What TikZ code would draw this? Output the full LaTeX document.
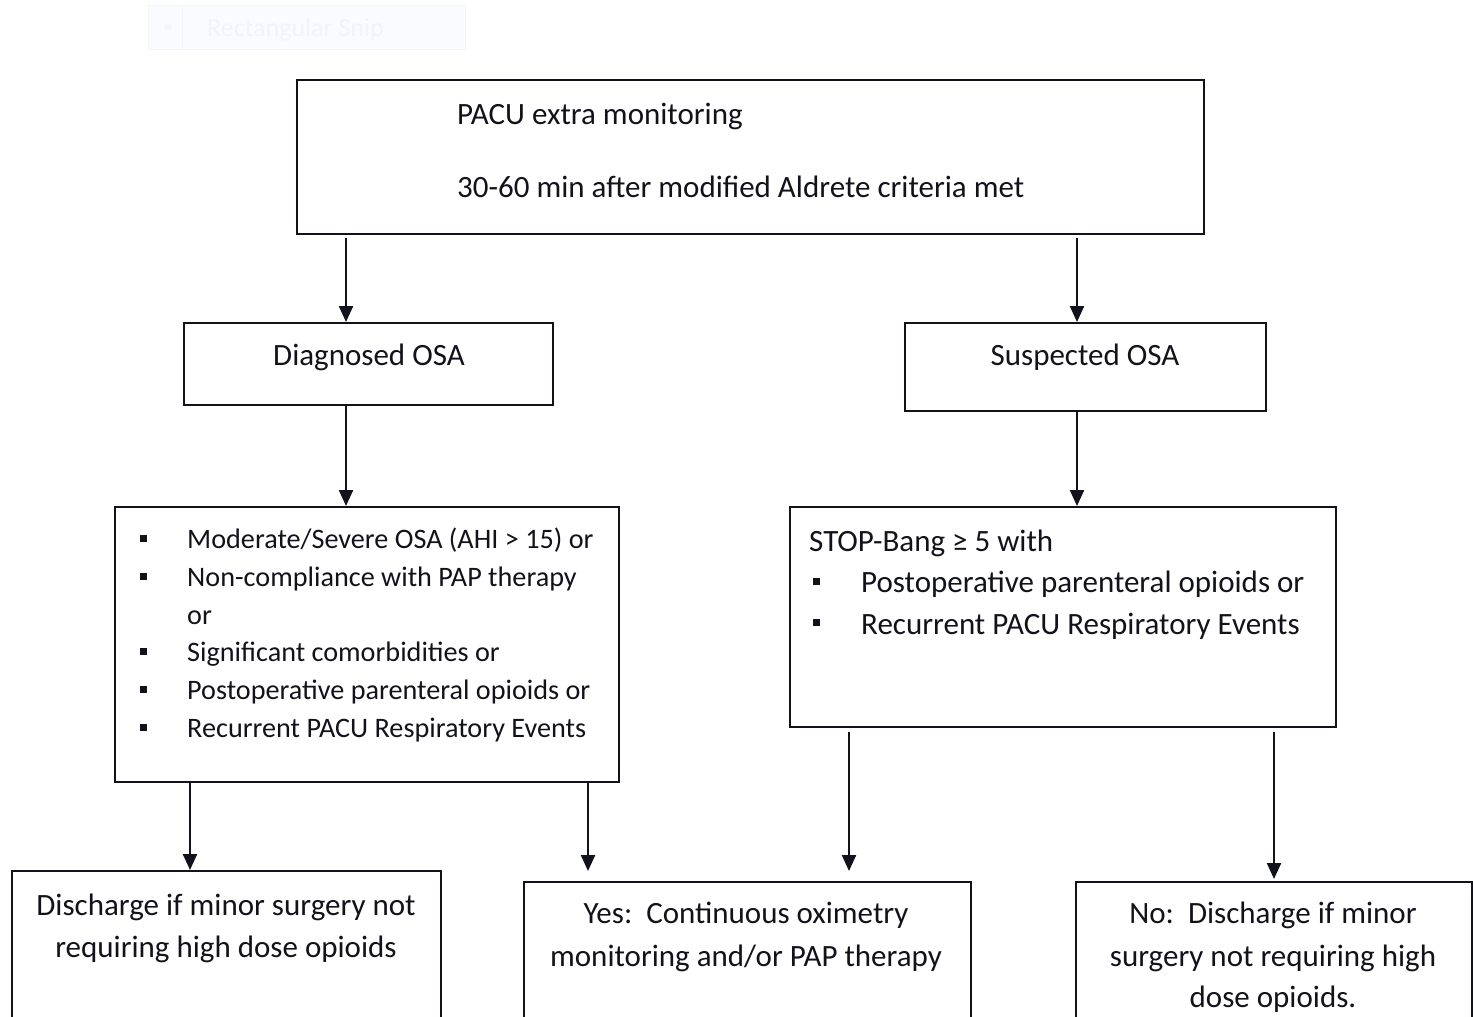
\documentclass[tikz,border=0pt]{standalone}
\usepackage{fontspec}
\setmainfont{Carlito}
\usetikzlibrary{arrows.meta}
\definecolor{ink}{RGB}{18,18,28}
\definecolor{ghostfill}{RGB}{249,251,254}
\definecolor{ghostline}{RGB}{242,246,251}
\definecolor{ghosttext}{RGB}{242,243,248}
\begin{document}
\begin{tikzpicture}[x=1pt,y=-1pt,
  box/.style={draw=ink, line width=1.8pt, anchor=north west, inner sep=0pt},
  txt/.style={anchor=base west, inner sep=0pt, text=ink, font=\fontsize{31}{42}\selectfont},
  ctxt/.style={txt, anchor=base},
  sm/.style={txt, font=\fontsize{28.2}{38}\selectfont},
  bul/.style={fill=ink, minimum size=7pt, inner sep=0pt},
  arr/.style={draw=ink, line width=2.3pt, -{Triangle[width=14pt,length=16pt]}},
  ghost/.style={draw=ghostline, fill=ghostfill, line width=1pt, anchor=north west, inner sep=0pt}]
\useasboundingbox (0,0) rectangle (1473,1017);
\clip (0,0) rectangle (1473,1017);
% faint ghost toolbar
\node[ghost, minimum width=317pt, minimum height=44pt] (gbar) at (148,5) {};
\node[ghost, minimum width=34pt, minimum height=44pt] (gbtn) at (148,5) {};
\node[circle, fill=ghostline, minimum size=8pt, inner sep=0pt] (gdot) at (168,27) {};
\node[txt, text=ghosttext, font=\fontsize{26}{30}\selectfont] (gtxt) at (207,36) {Rectangular Snip};
% boxes
\node[box, minimum width=907pt, minimum height=154pt] (top) at (296,79) {};
\node[txt] (t1) at (457,124) {PACU extra monitoring};
\node[txt] (t2) at (457,197) {30-60 min after modified Aldrete criteria met};
\node[box, minimum width=369pt, minimum height=82pt] (diag) at (183,322) {};
\node[ctxt] (diagt) at (369,365) {Diagnosed OSA};
\node[box, minimum width=361pt, minimum height=88pt] (susp) at (904,322) {};
\node[ctxt] (suspt) at (1085,365) {Suspected OSA};
% left list
\node[box, minimum width=504pt, minimum height=275pt] (llist) at (114,506) {};
\node[bul] (lb1) at (143,538) {};
\node[sm] (l1) at (187,548) {Moderate/Severe OSA (AHI > 15) or};
\node[bul] (lb2) at (143,576) {};
\node[sm] (l2) at (187,586) {Non-compliance with PAP therapy};
\node[sm] (l3) at (187,624) {or};
\node[bul] (lb4) at (143,651) {};
\node[sm] (l4) at (187,661) {Significant comorbidities or};
\node[bul] (lb5) at (143,689) {};
\node[sm] (l5) at (187,699) {Postoperative parenteral opioids or};
\node[bul] (lb6) at (143,727) {};
\node[sm] (l6) at (187,737) {Recurrent PACU Respiratory Events};
% right list
\node[box, minimum width=546pt, minimum height=220pt] (rlist) at (789,506) {};
\node[txt] (r0) at (809,551) {STOP-Bang ≥ 5 with};
\node[bul] (rb1) at (816,581) {};
\node[txt] (r1) at (861,592) {Postoperative parenteral opioids or};
\node[bul] (rb2) at (816,622) {};
\node[txt] (r2) at (861,634) {Recurrent PACU Respiratory Events};
% bottom boxes
\node[box, minimum width=429pt, minimum height=220pt] (disc) at (11,870) {};
\node[ctxt] (d1) at (226,915) {Discharge if minor surgery not};
\node[ctxt] (d2) at (226,957) {requiring high dose opioids};
\node[box, minimum width=447pt, minimum height=220pt] (yes) at (523,881) {};
\node[ctxt] (y1) at (746,923) {Yes:\ \ Continuous oximetry};
\node[ctxt] (y2) at (746,966) {monitoring and/or PAP therapy};
\node[box, minimum width=396pt, minimum height=220pt] (no) at (1075,881) {};
\node[ctxt] (n1) at (1273,923) {No:\ \ Discharge if minor};
\node[ctxt] (n2) at (1273,966) {surgery not requiring high};
\node[ctxt] (n3) at (1273,1007) {dose opioids.};
% arrow x positions
\coordinate (xa) at (346,0);
\coordinate (xb) at (1077,0);
\coordinate (xc) at (190,0);
\coordinate (xd) at (588,0);
\coordinate (xe) at (849,0);
\coordinate (xf) at (1274,0);
\draw[arr, shorten <=3pt] (top.south -| xa) -- (diag.north -| xa);
\draw[arr, shorten <=3pt] (top.south -| xb) -- (susp.north -| xb);
\draw[arr] (diag.south -| xa) -- (llist.north -| xa);
\draw[arr] (susp.south -| xb) -- (rlist.north -| xb);
\draw[arr] (llist.south -| xc) -- (disc.north -| xc);
\draw[arr, shorten >=10pt] (llist.south -| xd) -- (yes.north -| xd);
\draw[arr, shorten <=4pt, shorten >=10pt] (rlist.south -| xe) -- (yes.north -| xe);
\draw[arr, shorten <=4pt, shorten >=2pt] (rlist.south -| xf) -- (no.north -| xf);
\end{tikzpicture}
\end{document}
